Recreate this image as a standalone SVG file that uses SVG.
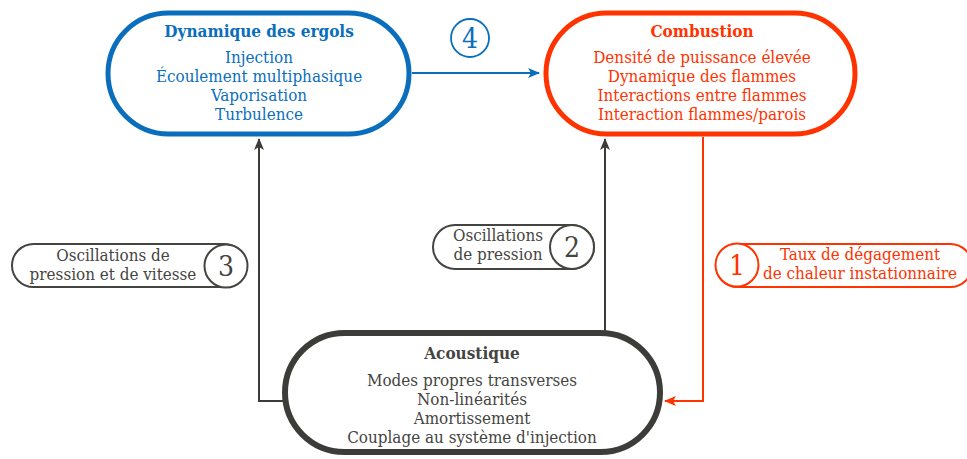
<svg xmlns="http://www.w3.org/2000/svg" width="967" height="459" viewBox="0 0 967 459">
<defs>
<style>
text{font-family:"DejaVu Serif Condensed","Liberation Serif",serif;font-size:16.9px;text-anchor:middle}
.t{font-weight:bold;font-size:17px}
.blue{fill:#0A6EBD}
.org{fill:#FF3300}
.gry{fill:#444441}
.num{font-size:28px;font-weight:300}
</style>
<marker id="ab" markerWidth="12" markerHeight="10" refX="11" refY="5" orient="auto" markerUnits="userSpaceOnUse"><path d="M0,0 L12,5 L0,10 L3,5 z" fill="#0A6EBD"/></marker>
<marker id="ag" markerWidth="12" markerHeight="10" refX="11" refY="5" orient="auto" markerUnits="userSpaceOnUse"><path d="M0,0 L12,5 L0,10 L3,5 z" fill="#3C3C38"/></marker>
<marker id="ao" markerWidth="12" markerHeight="10" refX="11" refY="5" orient="auto" markerUnits="userSpaceOnUse"><path d="M0,0 L12,5 L0,10 L3,5 z" fill="#FF3300"/></marker>
</defs>
<rect width="967" height="459" fill="#fff"/>
<g id="connectors" fill="none" stroke-width="2">
<path d="M412,73 L539,73" stroke="#0A6EBD" marker-end="url(#ab)"/>
<path d="M284,401 L259,401 L259,139" stroke="#3C3C38" marker-end="url(#ag)"/>
<path d="M605,331 L605,139" stroke="#3C3C38" marker-end="url(#ag)"/>
<path d="M703,137 L703,401 L665,401" stroke="#FF3300" marker-end="url(#ao)"/>
</g>
<g id="node-ergols">
<rect x="108" y="13" width="301" height="121" rx="60.5" fill="#fff" stroke="#0A6EBD" stroke-width="5"/>
<text x="259" y="37" class="t blue">Dynamique des ergols</text>
<text x="259" y="63" class="blue">Injection</text>
<text x="259" y="82" class="blue">Écoulement multiphasique</text>
<text x="259" y="101" class="blue">Vaporisation</text>
<text x="259" y="120" class="blue">Turbulence</text>
</g>
<g id="node-combustion">
<rect x="546" y="13" width="309" height="121" rx="60.5" fill="#fff" stroke="#FF3300" stroke-width="5"/>
<text x="702" y="37" class="t org">Combustion</text>
<text x="702" y="63" class="org">Densité de puissance élevée</text>
<text x="702" y="82" class="org">Dynamique des flammes</text>
<text x="702" y="101" class="org">Interactions entre flammes</text>
<text x="702" y="120" class="org">Interaction flammes/parois</text>
</g>
<g id="node-acoustique">
<rect x="285" y="333" width="375" height="119" rx="59.5" fill="#fff" stroke="#3C3C38" stroke-width="6"/>
<text x="472" y="359" class="t gry">Acoustique</text>
<text x="472" y="386" class="gry">Modes propres transverses</text>
<text x="472" y="405" class="gry">Non-linéarités</text>
<text x="472" y="424" class="gry">Amortissement</text>
<text x="472" y="443" class="gry">Couplage au système d'injection</text>
</g>
<g id="label-4">
<circle cx="470" cy="38" r="19" fill="#fff" stroke="#0A6EBD" stroke-width="1.8"/>
<text x="470" y="48" class="num blue">4</text>
</g>
<g id="label-3">
<rect x="12" y="244" width="234" height="43" rx="21.5" fill="#fff" stroke="#444441" stroke-width="2"/>
<circle cx="226" cy="266" r="21.5" fill="#fff" stroke="#444441" stroke-width="2"/>
<text x="113" y="261" class="gry">Oscillations de</text>
<text x="113" y="280" class="gry">pression et de vitesse</text>
<text x="226" y="276" class="num gry">3</text>
</g>
<g id="label-2">
<rect x="433" y="225" width="161" height="44" rx="22" fill="#fff" stroke="#444441" stroke-width="2"/>
<circle cx="572" cy="247" r="22" fill="#fff" stroke="#444441" stroke-width="2"/>
<text x="498" y="241" class="gry">Oscillations</text>
<text x="498" y="260" class="gry">de pression</text>
<text x="572" y="257" class="num gry">2</text>
</g>
<g id="label-1">
<rect x="716" y="244" width="256" height="43" rx="21.5" fill="#fff" stroke="#FF3300" stroke-width="2"/>
<circle cx="737" cy="265" r="21.5" fill="#fff" stroke="#FF3300" stroke-width="2"/>
<text x="860" y="260" class="org">Taux de dégagement</text>
<text x="860" y="279" class="org">de chaleur instationnaire</text>
<text x="737" y="275" class="num org">1</text>
</g>
</svg>
